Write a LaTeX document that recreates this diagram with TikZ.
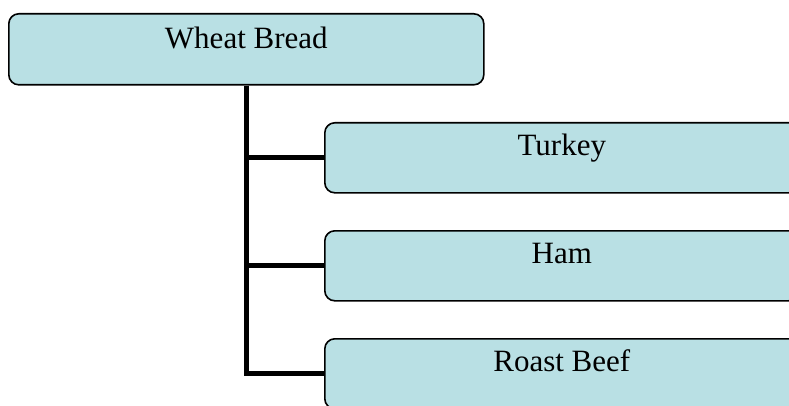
\documentclass[tikz,border=0pt]{standalone}
\usepackage{fontspec}
\setmainfont{Liberation Serif}
\definecolor{boxfill}{RGB}{185,224,228}
\begin{document}
\begin{tikzpicture}[x=1pt,y=-1pt,
  box/.style={draw=black, line width=1.6pt, fill=boxfill, rounded corners=10pt,
    inner sep=0pt, anchor=north west, font=\fontsize{31}{36}\selectfont},
  rootbox/.style={box, minimum width=475pt, text height=35pt, text depth=36pt},
  childbox/.style={box, minimum width=474pt, text height=33pt, text depth=37pt},
  conn/.style={line width=5pt, black}]
\useasboundingbox (0,0) rectangle (789,406);
\clip (0,0) rectangle (789,406);
\node[rootbox] (root) at (8,13) {Wheat Bread};
\node[childbox] (turkey) at (324,122) {Turkey};
\node[childbox] (ham) at (324,230) {Ham};
\node[childbox] (beef) at (324,338) {Roast Beef};
\draw[conn] (root.south) |- (turkey.west);
\draw[conn] (root.south) |- (ham.west);
\draw[conn] (root.south) |- (beef.west);
\end{tikzpicture}
\end{document}
